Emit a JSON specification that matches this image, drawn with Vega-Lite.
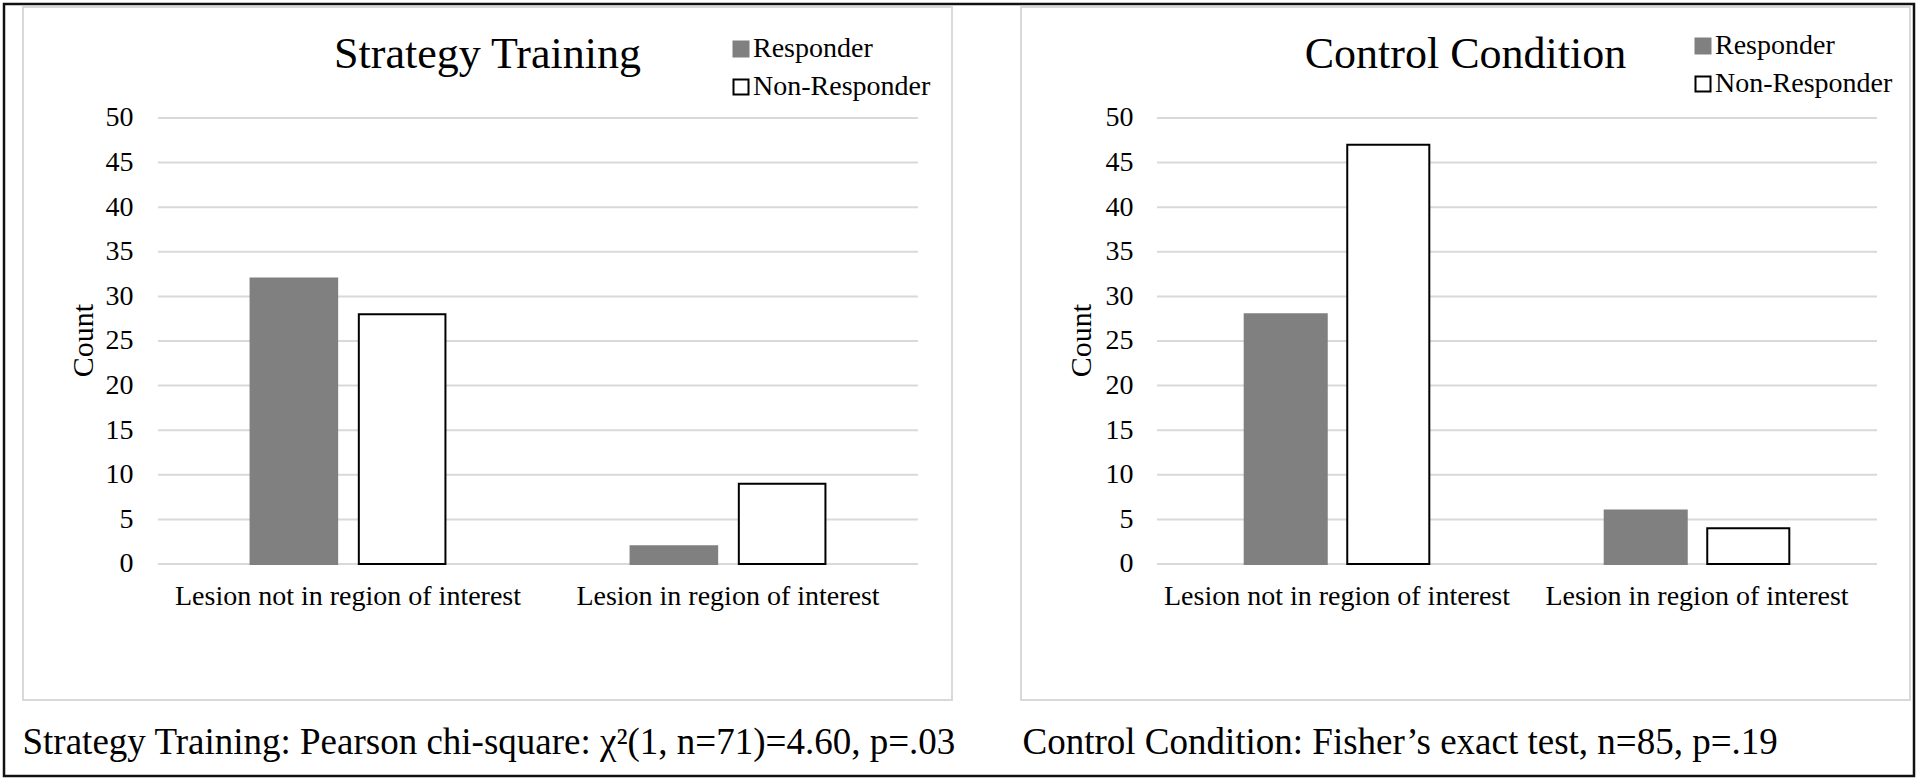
{
  "$schema": "https://vega.github.io/schema/vega-lite/v6.json",
  "width": 1910,
  "height": 772,
  "autosize": {"type": "none"},
  "padding": {"left": 4, "top": 4, "right": 6, "bottom": 6},
  "background": "white",
  "config": {"view": {"stroke": "#111111", "strokeWidth": 2.5}, "font": "Liberation Serif"},
  "datasets": {
    "strategy": [
      {"lesion": "Lesion not in region of interest", "group": "Responder", "count": 32},
      {"lesion": "Lesion not in region of interest", "group": "Non-Responder", "count": 28},
      {"lesion": "Lesion in region of interest", "group": "Responder", "count": 2},
      {"lesion": "Lesion in region of interest", "group": "Non-Responder", "count": 9}
    ],
    "control": [
      {"lesion": "Lesion not in region of interest", "group": "Responder", "count": 28},
      {"lesion": "Lesion not in region of interest", "group": "Non-Responder", "count": 47},
      {"lesion": "Lesion in region of interest", "group": "Responder", "count": 6},
      {"lesion": "Lesion in region of interest", "group": "Non-Responder", "count": 4}
    ],
    "grid": [{"v": 0}, {"v": 5}, {"v": 10}, {"v": 15}, {"v": 20}, {"v": 25}, {"v": 30}, {"v": 35}, {"v": 40}, {"v": 45}, {"v": 50}],
    "titleL": [{"t": "Strategy Training"}],
    "titleR": [{"t": "Control Condition"}],
    "box": [{"b": 1}]
  },
  "layer": [
    {
      "layer": [
        {
          "data": {"name": "box"},
          "mark": {"type": "rect", "fill": "transparent", "stroke": "#d9d9d9", "strokeWidth": 2},
          "encoding": {
            "x": {"datum": "Lesion not in region of interest", "type": "nominal", "bandPosition": -0.35526, "scale": {"type": "band", "domain": ["Lesion not in region of interest", "Lesion in region of interest"], "paddingInner": 0, "paddingOuter": 0, "range": [154, 914]}},
            "x2": {"datum": "Lesion in region of interest", "bandPosition": 1.08947},
            "y": {"datum": 62.444, "type": "quantitative", "scale": {"domain": [-23.767, 62.78], "nice": false, "zero": false}},
            "y2": {"datum": -15.247}
          }
        },
        {
          "data": {"name": "grid"},
          "mark": {"type": "rule", "stroke": "#d9d9d9", "strokeWidth": 2},
          "encoding": {
            "x": {"datum": "Lesion not in region of interest", "type": "nominal", "bandPosition": 0, "scale": {"type": "band", "domain": ["Lesion not in region of interest", "Lesion in region of interest"], "paddingInner": 0, "paddingOuter": 0, "range": [154, 914]}},
            "x2": {"datum": "Lesion in region of interest", "bandPosition": 1},
            "y": {"field": "v", "type": "quantitative", "scale": {"domain": [-23.767, 62.78], "nice": false, "zero": false}}
          }
        },
        {
          "data": {"name": "strategy"},
          "mark": {"type": "bar", "strokeWidth": 2},
          "encoding": {
            "x": {
              "field": "lesion", "type": "nominal",
              "scale": {"type": "band", "domain": ["Lesion not in region of interest", "Lesion in region of interest"], "paddingInner": 0, "paddingOuter": 0, "range": [154, 914]},
              "axis": {"orient": "bottom", "offset": -212, "bandPosition": 0.5, "domain": false, "ticks": false, "grid": false, "labelPadding": 32, "labelAlign": "center", "labelFlush": false, "labelFont": "Liberation Serif", "labelFontSize": 28, "labelColor": "black", "labelAngle": 0, "labelLimit": 0,
                "title": "Strategy Training: Pearson chi-square: χ²(1, n=71)=4.60, p=.03", "titleFont": "Liberation Serif", "titleFontSize": 37, "titleFontWeight": "normal", "titleColor": "black", "titleX": 18, "titleY": 189, "titleAlign": "left", "titleBaseline": "alphabetic", "titleAnchor": "start"}
            },
            "xOffset": {"field": "group", "type": "nominal", "scale": {"domain": ["Responder", "Non-Responder"], "paddingInner": 0.2, "paddingOuter": 0.855}},
            "y": {
              "field": "count", "type": "quantitative",
              "scale": {"domain": [-23.767, 62.78], "nice": false, "zero": false},
              "axis": {"orient": "left", "offset": -129, "values": [0, 5, 10, 15, 20, 25, 30, 35, 40, 45, 50], "domain": false, "ticks": false, "tickSize": 0, "grid": false, "labelPadding": 0, "labelFont": "Liberation Serif", "labelFontSize": 28, "labelColor": "black",
                "title": "Count", "titleFont": "Liberation Serif", "titleFontSize": 30, "titleFontWeight": "normal", "titleColor": "black", "titleAngle": -90, "titleX": -41, "titleY": 336, "titleAlign": "center", "titleBaseline": "alphabetic"}
            },
            "y2": {"datum": 0},
            "fill": {"field": "group", "type": "nominal", "scale": {"domain": ["Responder", "Non-Responder"], "range": ["#808080", "#ffffff"]},
              "legend": {"title": null, "orient": "none", "legendX": 723, "legendY": 31, "symbolType": "square", "symbolSize": 225, "symbolStrokeWidth": 2, "labelFont": "Liberation Serif", "labelFontSize": 28, "labelColor": "black", "labelLimit": 0, "rowPadding": 10, "labelOffset": -2, "padding": 0}},
            "stroke": {"field": "group", "type": "nominal", "scale": {"domain": ["Responder", "Non-Responder"], "range": ["#808080", "#000000"]},
              "legend": {"title": null, "orient": "none", "legendX": 723, "legendY": 31, "symbolType": "square", "symbolSize": 225, "symbolStrokeWidth": 2, "labelFont": "Liberation Serif", "labelFontSize": 28, "labelColor": "black", "labelLimit": 0, "rowPadding": 10, "labelOffset": -2, "padding": 0}}
          }
        },
        {
          "data": {"name": "titleL"},
          "mark": {"type": "text", "font": "Liberation Serif", "fontSize": 44, "baseline": "alphabetic", "align": "center", "color": "black"},
          "encoding": {
            "text": {"field": "t", "type": "nominal"},
            "x": {"datum": "Lesion not in region of interest", "type": "nominal", "bandPosition": 0.86711, "scale": {"type": "band", "domain": ["Lesion not in region of interest", "Lesion in region of interest"], "paddingInner": 0, "paddingOuter": 0, "range": [154, 914]}},
            "y": {"datum": 55.605, "type": "quantitative", "scale": {"domain": [-23.767, 62.78], "nice": false, "zero": false}}
          }
        }
      ]
    },
    {
      "layer": [
        {
          "data": {"name": "box"},
          "mark": {"type": "rect", "fill": "transparent", "stroke": "#d9d9d9", "strokeWidth": 2},
          "encoding": {
            "x": {"datum": "Lesion not in region of interest", "type": "nominal", "bandPosition": -0.37778, "scale": {"type": "band", "domain": ["Lesion not in region of interest", "Lesion in region of interest"], "paddingInner": 0, "paddingOuter": 0, "range": [1153, 1873]}},
            "x2": {"datum": "Lesion in region of interest", "bandPosition": 1.09167},
            "y": {"datum": 62.444, "type": "quantitative", "scale": {"domain": [-23.767, 62.78], "nice": false, "zero": false}},
            "y2": {"datum": -15.247}
          }
        },
        {
          "data": {"name": "grid"},
          "mark": {"type": "rule", "stroke": "#d9d9d9", "strokeWidth": 2},
          "encoding": {
            "x": {"datum": "Lesion not in region of interest", "type": "nominal", "bandPosition": 0, "scale": {"type": "band", "domain": ["Lesion not in region of interest", "Lesion in region of interest"], "paddingInner": 0, "paddingOuter": 0, "range": [1153, 1873]}},
            "x2": {"datum": "Lesion in region of interest", "bandPosition": 1},
            "y": {"field": "v", "type": "quantitative", "scale": {"domain": [-23.767, 62.78], "nice": false, "zero": false}}
          }
        },
        {
          "data": {"name": "control"},
          "mark": {"type": "bar", "strokeWidth": 2},
          "encoding": {
            "x": {
              "field": "lesion", "type": "nominal",
              "scale": {"type": "band", "domain": ["Lesion not in region of interest", "Lesion in region of interest"], "paddingInner": 0, "paddingOuter": 0, "range": [1153, 1873]},
              "axis": {"orient": "bottom", "offset": -212, "bandPosition": 0.5, "domain": false, "ticks": false, "grid": false, "labelPadding": 32, "labelAlign": "center", "labelFlush": false, "labelFont": "Liberation Serif", "labelFontSize": 28, "labelColor": "black", "labelAngle": 0, "labelLimit": 0,
                "title": "Control Condition: Fisher’s exact test, n=85, p=.19", "titleFont": "Liberation Serif", "titleFontSize": 37, "titleFontWeight": "normal", "titleColor": "black", "titleX": 1018, "titleY": 189, "titleAlign": "left", "titleBaseline": "alphabetic", "titleAnchor": "start"}
            },
            "xOffset": {"field": "group", "type": "nominal", "scale": {"domain": ["Responder", "Non-Responder"], "paddingInner": 0.2, "paddingOuter": 0.855}},
            "y": {
              "field": "count", "type": "quantitative",
              "scale": {"domain": [-23.767, 62.78], "nice": false, "zero": false},
              "axis": {"orient": "left", "offset": -1129, "values": [0, 5, 10, 15, 20, 25, 30, 35, 40, 45, 50], "domain": false, "ticks": false, "tickSize": 0, "grid": false, "labelPadding": 0, "labelFont": "Liberation Serif", "labelFontSize": 28, "labelColor": "black",
                "title": "Count", "titleFont": "Liberation Serif", "titleFontSize": 30, "titleFontWeight": "normal", "titleColor": "black", "titleAngle": -90, "titleX": -43, "titleY": 336, "titleAlign": "center", "titleBaseline": "alphabetic"}
            },
            "y2": {"datum": 0},
            "fill": {"field": "group", "type": "nominal", "scale": {"domain": ["Responder", "Non-Responder"], "range": ["#808080", "#ffffff"]},
              "legend": {"title": null, "orient": "none", "legendX": 1685, "legendY": 28, "symbolType": "square", "symbolSize": 225, "symbolStrokeWidth": 2, "labelFont": "Liberation Serif", "labelFontSize": 28, "labelColor": "black", "labelLimit": 0, "rowPadding": 10, "labelOffset": -2, "padding": 0}},
            "stroke": {"field": "group", "type": "nominal", "scale": {"domain": ["Responder", "Non-Responder"], "range": ["#808080", "#000000"]},
              "legend": {"title": null, "orient": "none", "legendX": 1685, "legendY": 28, "symbolType": "square", "symbolSize": 225, "symbolStrokeWidth": 2, "labelFont": "Liberation Serif", "labelFontSize": 28, "labelColor": "black", "labelLimit": 0, "rowPadding": 10, "labelOffset": -2, "padding": 0}}
          }
        },
        {
          "data": {"name": "titleR"},
          "mark": {"type": "text", "font": "Liberation Serif", "fontSize": 44, "baseline": "alphabetic", "align": "center", "color": "black"},
          "encoding": {
            "text": {"field": "t", "type": "nominal"},
            "x": {"datum": "Lesion not in region of interest", "type": "nominal", "bandPosition": 0.85694, "scale": {"type": "band", "domain": ["Lesion not in region of interest", "Lesion in region of interest"], "paddingInner": 0, "paddingOuter": 0, "range": [1153, 1873]}},
            "y": {"datum": 55.605, "type": "quantitative", "scale": {"domain": [-23.767, 62.78], "nice": false, "zero": false}}
          }
        }
      ]
    }
  ],
  "resolve": {
    "scale": {"x": "independent", "y": "independent", "xOffset": "independent", "fill": "independent", "stroke": "independent"},
    "legend": {"fill": "independent", "stroke": "independent"}
  }
}
